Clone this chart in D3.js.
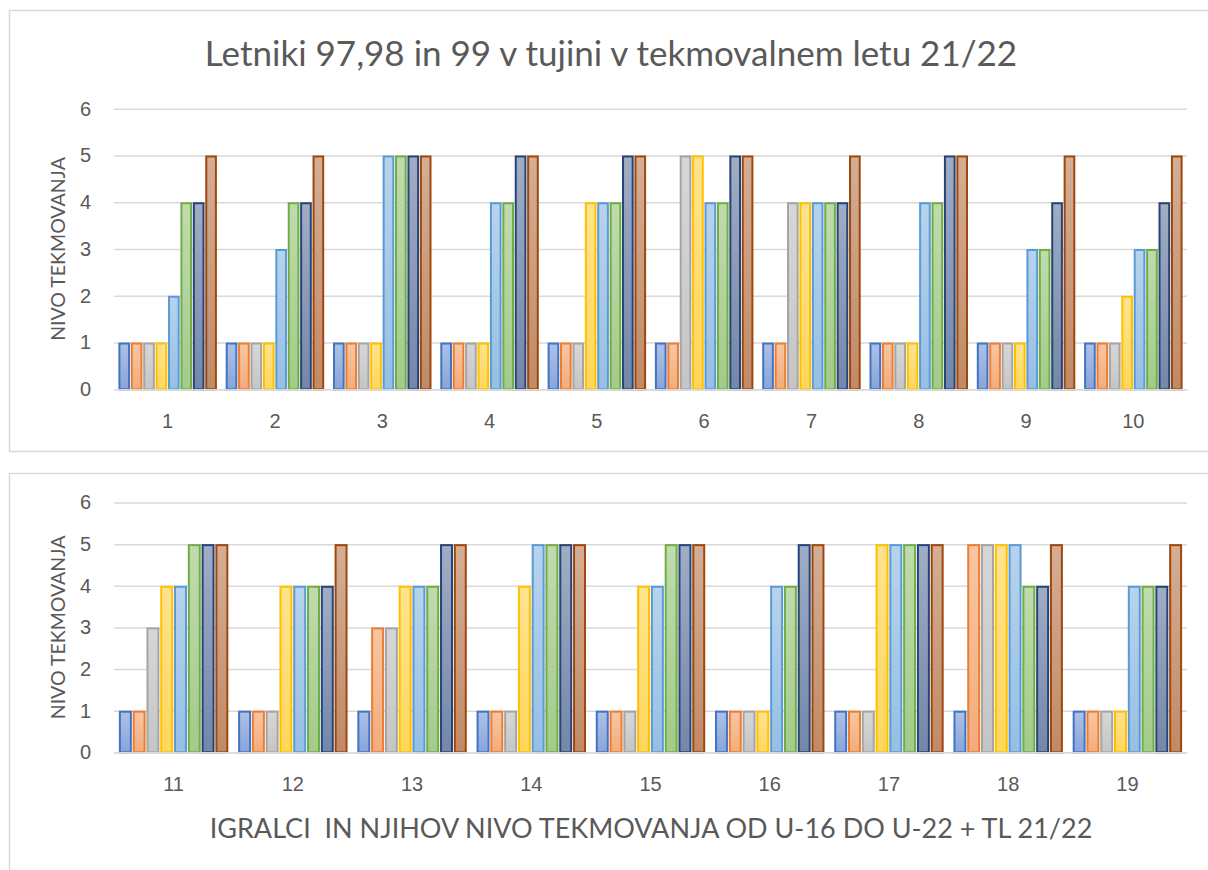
<!DOCTYPE html>
<html>
<head>
<meta charset="utf-8">
<script src="https://cdn.jsdelivr.net/npm/d3@7"></script>
<style>
  body { margin: 0; background: #fff; }
  svg { display: block; font-family: Lato, "Open Sans", sans-serif; }
  text { white-space: pre; }
</style>
</head>
<body>
<svg id="chart" width="1208" height="870"></svg>
<script>
// players (categories), split over two panels
const playersTop = ["1","2","3","4","5","6","7","8","9","10"];
const playersBottom = ["11","12","13","14","15","16","17","18","19"];

// one array per season/series, one value per player (1..19)
const series1 = [1,1,1,1,1,1,1,1,1,1, 1,1,1,1,1,1,1,1,1];
const series2 = [1,1,1,1,1,1,1,1,1,1, 1,1,3,1,1,1,1,5,1];
const series3 = [1,1,1,1,1,5,4,1,1,1, 3,1,3,1,1,1,1,5,1];
const series4 = [1,1,1,1,4,5,4,1,1,2, 4,4,4,4,4,1,5,5,1];
const series5 = [2,3,5,4,4,4,4,4,3,3, 4,4,4,5,4,4,5,5,4];
const series6 = [4,4,5,4,4,4,4,4,3,3, 5,4,4,5,5,4,5,4,4];
const series7 = [4,4,5,5,5,5,4,5,4,4, 5,4,5,5,5,5,5,4,4];
const series8 = [5,5,5,5,5,5,5,5,5,5, 5,5,5,5,5,5,5,5,5];
const allSeries = [series1, series2, series3, series4, series5, series6, series7, series8];

const seriesColors = ["#4472C4","#ED7D31","#A5A5A5","#FFC000","#5B9BD5","#70AD47","#264478","#9E480E"];
const yTicks = [0,1,2,3,4,5,6];

const titleText = "Letniki 97,98 in 99 v tujini v tekmovalnem letu 21/22";
const yTitle = "NIVO TEKMOVANJA";
const xTitle = "IGRALCI  IN NJIHOV NIVO TEKMOVANJA OD U-16 DO U-22 + TL 21/22";

const allPlayers = playersTop.concat(playersBottom);
const textColor = "#595959";
const gridColor = "#d9d9d9";

const svg = d3.select("#chart");

// gradients: lighter at top, a bit darker at the bottom
const defs = svg.append("defs");
seriesColors.forEach((c, i) => {
  const g = defs.append("linearGradient")
    .attr("id", "grad" + i)
    .attr("x1", 0).attr("y1", 0).attr("x2", 0).attr("y2", 1);
  g.append("stop").attr("offset", "0%").attr("stop-color", d3.interpolateRgb(c, "#fff")(0.56));
  g.append("stop").attr("offset", "100%").attr("stop-color", d3.interpolateRgb(c, "#fff")(0.36));
});

function drawPanel(cfg) {
  // panel frame
  svg.append("rect")
    .attr("x", 9.5).attr("y", cfg.boxTop)
    .attr("width", 1210).attr("height", cfg.boxHeight)
    .attr("fill", "none").attr("stroke", gridColor).attr("stroke-width", 1.5);

  const left = 114, right = 1187;
  const x0 = d3.scaleBand()
    .domain(cfg.players)
    .range([left, right])
    .paddingInner(0.082)
    .paddingOuter(0.041);
  const x1 = d3.scaleBand()
    .domain(d3.range(allSeries.length))
    .range([0, x0.bandwidth()])
    .paddingInner(0.06);
  const y = d3.scaleLinear().domain([0, 6]).range([cfg.bottom, cfg.top]);

  // y axis + gridlines
  const yAxis = svg.append("g")
    .attr("transform", `translate(${left},0)`)
    .call(d3.axisLeft(y).tickValues(yTicks).tickFormat(d3.format("d"))
      .tickSizeInner(-(right - left)).tickSizeOuter(0).tickPadding(23));
  yAxis.select(".domain").remove();
  yAxis.selectAll(".tick line").attr("stroke", gridColor).attr("stroke-width", 1.5);
  yAxis.selectAll(".tick text").attr("fill", textColor).attr("font-size", 20);

  // bars
  const groups = svg.append("g").selectAll("g")
    .data(cfg.players)
    .join("g")
    .attr("transform", d => `translate(${x0(d)},0)`);

  groups.selectAll("rect")
    .data(p => allSeries.map((s, i) => ({ i: i, v: s[allPlayers.indexOf(p)] })))
    .join("rect")
    .attr("x", d => x1(d.i) + 1)
    .attr("y", d => y(d.v) + 1)
    .attr("width", x1.bandwidth() - 2)
    .attr("height", d => y(0) - y(d.v) - 1)
    .attr("fill", d => `url(#grad${d.i})`)
    .attr("stroke", d => seriesColors[d.i])
    .attr("stroke-width", 2);

  // x axis
  const xAxis = svg.append("g")
    .attr("transform", `translate(0,${cfg.bottom})`)
    .call(d3.axisBottom(x0).tickSize(0).tickPadding(25));
  xAxis.select(".domain").attr("stroke", gridColor).attr("stroke-width", 1.5);
  xAxis.selectAll(".tick text").attr("fill", textColor).attr("font-size", 20);

  // y axis title
  svg.append("text")
    .attr("transform", `translate(57,${(cfg.top + cfg.bottom) / 2}) rotate(-90)`)
    .attr("text-anchor", "middle")
    .attr("dominant-baseline", "central")
    .attr("fill", textColor)
    .attr("font-size", 19.5)
    .text(yTitle);
}

// title of the top panel
svg.append("text")
  .attr("x", 611).attr("y", 66)
  .attr("text-anchor", "middle")
  .attr("fill", textColor)
  .attr("font-size", 35)
  .text(titleText);

drawPanel({ players: playersTop, boxTop: 10.5, boxHeight: 441, top: 108.7, bottom: 389.3 });
drawPanel({ players: playersBottom, boxTop: 473.5, boxHeight: 420, top: 502.5, bottom: 752.3 });

// x axis title of the bottom panel
svg.append("text")
  .attr("x", 651).attr("y", 827)
  .attr("text-anchor", "middle")
  .attr("dominant-baseline", "central")
  .attr("fill", textColor)
  .attr("font-size", 27)
  .text(xTitle);
</script>
</body>
</html>
